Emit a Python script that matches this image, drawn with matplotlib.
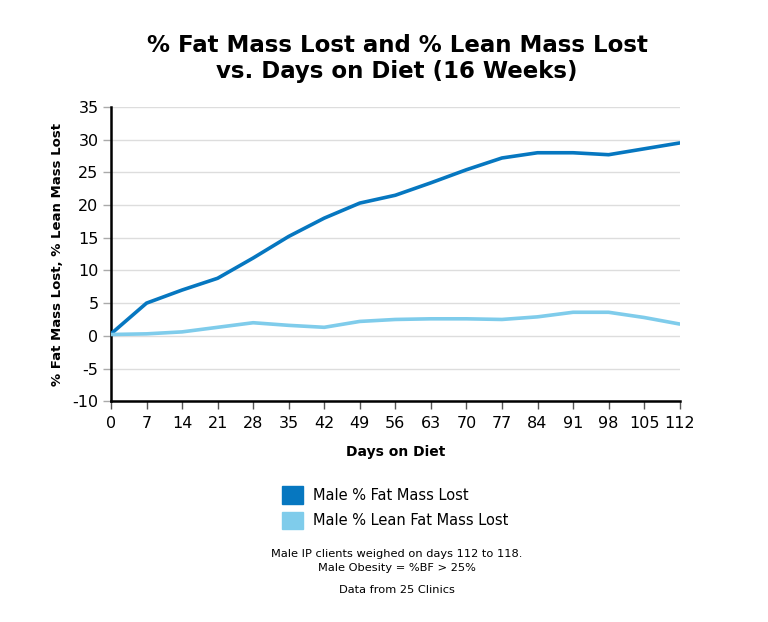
import numpy as np
import matplotlib.pyplot as plt
from matplotlib.patches import Patch

days = [0, 7, 14, 21, 28, 35, 42, 49, 56, 63, 70, 77, 84, 91, 98, 105, 112]
fat_lost = [0.3, 5.0, 7.0, 8.8, 11.9, 15.2, 18.0, 20.3, 21.5, 23.4, 25.4, 27.2, 28.0, 28.0, 27.7, 28.6, 29.5]
lean_lost = [0.2, 0.3, 0.6, 1.3, 2.0, 1.6, 1.3, 2.2, 2.5, 2.6, 2.6, 2.5, 2.9, 3.6, 3.6, 2.8, 1.8]
y_ticks = [-10, -5, 0, 5, 10, 15, 20, 25, 30, 35]

fat_color = '#0677c0'
lean_color = '#7fcceb'

plt.rcParams['axes.unicode_minus'] = False

fig = plt.figure(figsize=(7.68, 6.22), dpi=100)
ax = fig.add_axes([0.1445, 0.355, 0.7405, 0.473])

ax.plot(days, fat_lost, color=fat_color, lw=2.6, solid_joinstyle='round', solid_capstyle='round', zorder=3)
ax.plot(days, lean_lost, color=lean_color, lw=2.6, solid_joinstyle='round', solid_capstyle='round', zorder=3)

ax.set_xlim(0, 112)
ax.set_ylim(-10, 35)
ax.set_xticks(days)
ax.set_yticks(y_ticks)
ax.tick_params(axis='x', length=6, width=1, color='#555555', labelsize=11.5, pad=5)
ax.tick_params(axis='y', length=6, width=1, color='#aaaaaa', labelsize=11.5, pad=3)
ax.grid(axis='y', color='#dddddd', lw=1)
ax.set_axisbelow(True)
for s in ['top', 'right']:
    ax.spines[s].set_visible(False)
for s in ['left', 'bottom']:
    ax.spines[s].set_linewidth(1.8)
    ax.spines[s].set_color('black')

ax.set_xlabel('Days on Diet', fontsize=10, fontweight='bold', labelpad=10)
ax.set_ylabel('% Fat Mass Lost, % Lean Mass Lost', fontsize=9.5, fontweight='bold', labelpad=6)

fig.text(0.517, 0.906, '% Fat Mass Lost and % Lean Mass Lost\nvs. Days on Diet (16 Weeks)',
         ha='center', va='center', fontsize=16.5, fontweight='bold', linespacing=1.2)

handles = [Patch(color=fat_color, label='Male % Fat Mass Lost'),
           Patch(color=lean_color, label='Male % Lean Fat Mass Lost')]
fig.legend(handles=handles, loc='upper left', bbox_to_anchor=(0.367, 0.218), frameon=False,
           fontsize=10.5, handlelength=1.45, handleheight=1.45, handletextpad=0.7, labelspacing=0.55,
           borderaxespad=0, borderpad=0)

fig.text(0.517, 0.098, 'Male IP clients weighed on days 112 to 118.\nMale Obesity = %BF > 25%',
         ha='center', va='center', fontsize=8.2, linespacing=1.4)
fig.text(0.517, 0.051, 'Data from 25 Clinics', ha='center', va='center', fontsize=8.2)

fig.savefig('out.png', dpi=100)
